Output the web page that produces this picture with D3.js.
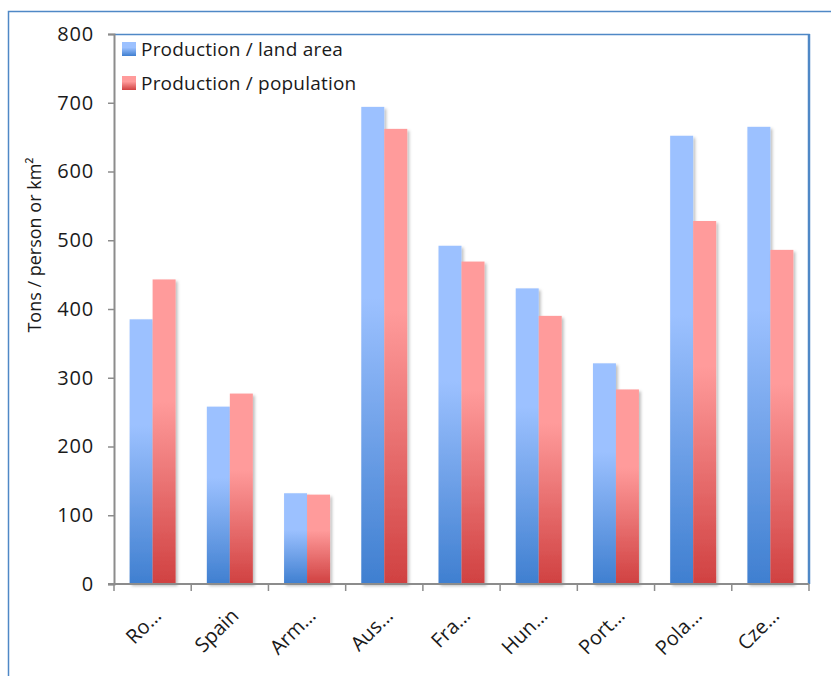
<!DOCTYPE html>
<html>
<head>
<meta charset="utf-8">
<script src="https://cdn.jsdelivr.net/npm/d3@7"></script>
<style>
  html, body { margin: 0; padding: 0; background: #fff; }
  svg { display: block; font-family: "Open Sans", sans-serif; }
</style>
</head>
<body>
<svg id="chart" width="831" height="676"></svg>
<script>
// Country labels (truncated as on the axis)
const categories = ["Ro…", "Spain", "Arm…", "Aus…", "Fra…", "Hun…", "Port…", "Pola…", "Cze…"];
// Production per land area (tons / km²)
const landArea = [385, 258, 132, 694, 492, 430, 321, 652, 665];
// Production per population (tons / person)
const population = [443, 277, 130, 662, 469, 390, 283, 528, 486];
const seriesNames = ["Production / land area", "Production / population"];
const yTicks = [0, 100, 200, 300, 400, 500, 600, 700, 800];

const svg = d3.select("#chart");
const plot = { left: 114, right: 809, top: 34, bottom: 584 };

const defs = svg.append("defs");
function grad(id, top, bottom) {
  const g = defs.append("linearGradient").attr("id", id)
    .attr("x1", 0).attr("y1", 0).attr("x2", 0).attr("y2", 1);
  g.append("stop").attr("offset", "0%").attr("stop-color", top);
  g.append("stop").attr("offset", "40%").attr("stop-color", top);
  g.append("stop").attr("offset", "100%").attr("stop-color", bottom);
}
grad("gBlue", "#9cc1ff", "#3f7fd0");
grad("gRed", "#ff9b9b", "#d04141");
const sh = defs.append("filter").attr("id", "shadow")
  .attr("x", "-20%").attr("y", "-5%").attr("width", "150%").attr("height", "115%");
sh.append("feDropShadow").attr("dx", 2).attr("dy", 2).attr("stdDeviation", 1.6)
  .attr("flood-color", "#000").attr("flood-opacity", 0.25);

// Outer chart frame
svg.append("rect").attr("x", 8.5).attr("y", 11.5).attr("width", 840).attr("height", 700)
  .attr("fill", "none").attr("stroke", "#4f88c6").attr("stroke-width", 1.5);

const x = d3.scaleBand().domain(categories).range([plot.left, plot.right]).paddingInner(0).paddingOuter(0);
const y = d3.scaleLinear().domain([0, 800]).range([plot.bottom, plot.top]);

// Plot area frame (top and right)
svg.append("path")
  .attr("d", `M${plot.left},${plot.top + 0.5}H${plot.right}V${plot.bottom}`)
  .attr("fill", "none").attr("stroke", "#4f88c6").attr("stroke-width", 1.5);
svg.append("line").attr("x1", plot.right).attr("x2", plot.right)
  .attr("y1", plot.top).attr("y2", plot.bottom)
  .attr("stroke", "#4f88c6").attr("stroke-width", 2.5);

// Bars
const barW = 23;
const groups = svg.append("g").selectAll("g").data(categories).join("g")
  .attr("transform", d => `translate(${x(d) + x.bandwidth() / 2},0)`);
groups.append("rect")
  .attr("x", -barW).attr("width", barW)
  .attr("y", (d, i) => y(landArea[i]))
  .attr("height", (d, i) => y(0) - y(landArea[i]))
  .attr("fill", "url(#gBlue)").attr("filter", "url(#shadow)");
groups.append("rect")
  .attr("x", 0).attr("width", barW)
  .attr("y", (d, i) => y(population[i]))
  .attr("height", (d, i) => y(0) - y(population[i]))
  .attr("fill", "url(#gRed)").attr("filter", "url(#shadow)");

// Y axis
const yAxis = svg.append("g").attr("transform", `translate(${plot.left},0)`)
  .call(d3.axisLeft(y).tickValues(yTicks).tickSize(6).tickPadding(14));
yAxis.select(".domain").attr("stroke", "#8c8c8c").attr("stroke-width", 2);
yAxis.selectAll(".tick line").attr("stroke", "#8c8c8c").attr("stroke-width", 1.5);
yAxis.selectAll(".tick text").attr("font-size", 20).attr("fill", "#1a1a1a")
  .attr("letter-spacing", 0.8)
  .attr("font-family", "'Open Sans', sans-serif");

// X axis with boundary ticks between categories
const xAxisG = svg.append("g").attr("transform", `translate(0,${plot.bottom})`);
xAxisG.append("line").attr("x1", plot.left - 6).attr("x2", plot.right)
  .attr("stroke", "#8c8c8c").attr("stroke-width", 2);
const bounds = categories.map(d => x(d)).concat([plot.right]);
xAxisG.selectAll("line.tk").data(bounds).join("line").attr("class", "tk")
  .attr("x1", d => d).attr("x2", d => d).attr("y1", 0).attr("y2", 7)
  .attr("stroke", "#8c8c8c").attr("stroke-width", 1.5);
xAxisG.selectAll("text").data(categories).join("text")
  .attr("transform", d => `translate(${x(d) + x.bandwidth() / 2 + 10},${33}) rotate(-45)`)
  .attr("text-anchor", "end").attr("font-size", 20).attr("fill", "#1a1a1a")
  .text(d => d);

// Y axis title
svg.append("text")
  .attr("transform", `translate(41,${245}) rotate(-90)`)
  .attr("text-anchor", "middle").attr("font-size", 18).attr("fill", "#1a1a1a")
  .text("Tons / person or km²");

// Legend
const legend = svg.append("g").attr("transform", "translate(122,42)");
const legFill = ["url(#gBlue)", "url(#gRed)"];
seriesNames.forEach((name, i) => {
  const g = legend.append("g").attr("transform", `translate(0,${i * 34})`);
  g.append("rect").attr("width", 14).attr("height", 14).attr("fill", legFill[i]);
  g.append("text").attr("x", 19).attr("y", 13.5).attr("font-size", 19)
    .attr("letter-spacing", 0.2)
    .attr("fill", "#1a1a1a").text(name);
});
</script>
</body>
</html>
